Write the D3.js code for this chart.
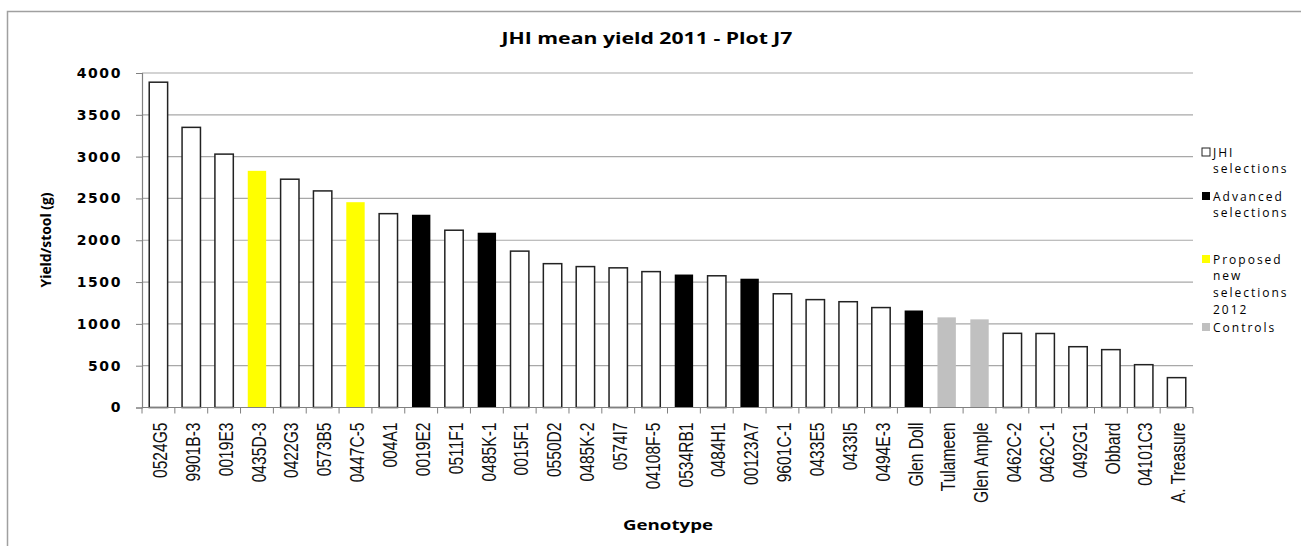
<!DOCTYPE html>
<html>
<head>
<meta charset="utf-8">
<script src="https://cdn.jsdelivr.net/npm/d3@7/dist/d3.min.js"></script>
<style>
  body { margin: 0; background: #fff; }
  svg { display: block; }
</style>
</head>
<body>
<svg id="chart" width="1301" height="546"></svg>
<script>
// genotypes, in the order they appear on the x axis
const genotypes = ['0524G5', '9901B-3', '0019E3', '0435D-3', '0422G3', '0573B5', '0447C-5', '004A1',
  '0019E2', '0511F1', '0485K-1', '0015F1', '0550D2', '0485K-2', '0574I7', '04108F-5',
  '0534RB1', '0484H1', '00123A7', '9601C-1', '0433E5', '0433I5', '0494E-3', 'Glen Doll',
  'Tulameen', 'Glen Ample', '0462C-2', '0462C-1', '0492G1', 'Obbard', '04101C3', 'A. Treasure'];

// mean yield per stool (g)
const yields = [3890, 3350, 3030, 2830, 2730, 2590, 2455, 2318,
  2305, 2120, 2090, 1870, 1720, 1685, 1670, 1625,
  1590, 1575, 1540, 1360, 1290, 1265, 1195, 1160,
  1078, 1054, 887, 885, 727, 692, 512, 357];

// which group each genotype belongs to
const groups = ['jhi', 'jhi', 'jhi', 'new', 'jhi', 'jhi', 'new', 'jhi',
  'adv', 'jhi', 'adv', 'jhi', 'jhi', 'jhi', 'jhi', 'jhi',
  'adv', 'jhi', 'adv', 'jhi', 'jhi', 'jhi', 'jhi', 'adv',
  'ctl', 'ctl', 'jhi', 'jhi', 'jhi', 'jhi', 'jhi', 'jhi'];

const yTicks = [0, 500, 1000, 1500, 2000, 2500, 3000, 3500, 4000];

const legendItems = [
  { key: 'jhi', lines: ['JHI', 'selections'] },
  { key: 'adv', lines: ['Advanced', 'selections'] },
  { key: 'new', lines: ['Proposed', 'new', 'selections', '2012'] },
  { key: 'ctl', lines: ['Controls'] }
];

const fills = { jhi: '#ffffff', adv: '#000000', new: '#ffff00', ctl: '#c0c0c0' };

const svg = d3.select('#chart');
const plotLeft = 142, plotRight = 1193, plotTop = 73, plotBottom = 407.5;

// outer chart border
svg.append('rect')
  .attr('x', 7.5).attr('y', 11.5).attr('width', 1310).attr('height', 560)
  .attr('fill', 'none').attr('stroke', '#a0a0a0').attr('stroke-width', 1.5);

const x = d3.scaleBand().domain(genotypes).range([plotLeft, plotRight])
  .paddingInner(0.44).paddingOuter(0.22);
const y = d3.scaleLinear().domain([0, 4000]).range([plotBottom, plotTop]);

// gridlines
svg.append('g').selectAll('line').data(yTicks.filter(d => d > 0)).join('line')
  .attr('x1', plotLeft).attr('x2', plotRight)
  .attr('y1', d => y(d)).attr('y2', d => y(d))
  .attr('stroke', '#a8a8a8').attr('stroke-width', 1.2);

// y axis
const yAxis = svg.append('g').attr('transform', `translate(${plotLeft},0)`)
  .call(d3.axisLeft(y).tickValues(yTicks).tickFormat(d3.format('d')).tickSize(6).tickPadding(14));
yAxis.select('.domain').attr('stroke', '#808080').attr('stroke-width', 1.2);
yAxis.selectAll('.tick line').attr('stroke', '#808080');
yAxis.selectAll('.tick text')
  .style('font-family', '"DejaVu Sans", sans-serif').style('font-weight', 'bold')
  .style('font-size', '14px').style('letter-spacing', '1.6px').attr('fill', '#000');

// bars
svg.append('g').selectAll('rect').data(genotypes).join('rect')
  .attr('x', d => x(d)).attr('width', x.bandwidth())
  .attr('y', (d, i) => y(yields[i])).attr('height', (d, i) => plotBottom - y(yields[i]))
  .attr('fill', (d, i) => fills[groups[i]])
  .attr('stroke', (d, i) => groups[i] === 'jhi' ? '#222' : 'none')
  .attr('stroke-width', 1.5);

// x axis with ticks between categories
const step = x.step();
const xg = svg.append('g');
xg.append('line').attr('x1', plotLeft).attr('x2', plotRight).attr('y1', plotBottom).attr('y2', plotBottom)
  .attr('stroke', '#808080').attr('stroke-width', 1.2);
xg.selectAll('.tk').data(d3.range(genotypes.length + 1)).join('line').attr('class', 'tk')
  .attr('x1', i => plotLeft + i * step).attr('x2', i => plotLeft + i * step)
  .attr('y1', plotBottom).attr('y2', plotBottom + 6)
  .attr('stroke', '#808080');
// condensed labels: squeeze along the reading direction
xg.selectAll('text').data(genotypes).join('text')
  .attr('transform', d => `translate(${x(d) + x.bandwidth() / 2 + 2},${plotBottom + 15}) rotate(-90) scale(0.78,1)`)
  .attr('text-anchor', 'end').attr('dominant-baseline', 'central')
  .style('font-family', '"Liberation Sans", Arial, sans-serif')
  .style('font-size', '20px').attr('fill', '#111').text(d => d);

// titles
svg.append('text').attr('x', 647).attr('y', 44).attr('text-anchor', 'middle')
  .attr('textLength', 291).attr('lengthAdjust', 'spacingAndGlyphs')
  .style('font-family', '"Open Sans", sans-serif').style('font-weight', 'bold')
  .style('font-size', '16px').text('JHI mean yield 2011 - Plot J7');

svg.append('text').attr('transform', 'translate(51,240) rotate(-90)').attr('text-anchor', 'middle')
  .attr('textLength', 95).attr('lengthAdjust', 'spacingAndGlyphs')
  .style('font-family', '"Open Sans", sans-serif').style('font-weight', 'bold')
  .style('font-size', '14px').text('Yield/stool (g)');

svg.append('text').attr('x', 668).attr('y', 530).attr('text-anchor', 'middle')
  .attr('textLength', 90).attr('lengthAdjust', 'spacingAndGlyphs')
  .style('font-family', '"Open Sans", sans-serif').style('font-weight', 'bold')
  .style('font-size', '14px').text('Genotype');

// legend
const legendTop = [152, 196, 259, 327];
const lineH = 16.7;
legendItems.forEach((item, k) => {
  const ly = legendTop[k];
  svg.append('rect').attr('x', 1202).attr('y', ly - 4).attr('width', 8).attr('height', 8)
    .attr('fill', fills[item.key])
    .attr('stroke', item.key === 'jhi' ? '#222' : 'none');
  item.lines.forEach((line, j) => {
    svg.append('text').attr('x', 1213).attr('y', ly + j * lineH)
      .attr('dominant-baseline', 'central')
      .style('font-family', '"Open Sans", sans-serif').style('font-size', '12px')
      .style('letter-spacing', '2px').text(line);
  });
});
</script>
</body>
</html>
